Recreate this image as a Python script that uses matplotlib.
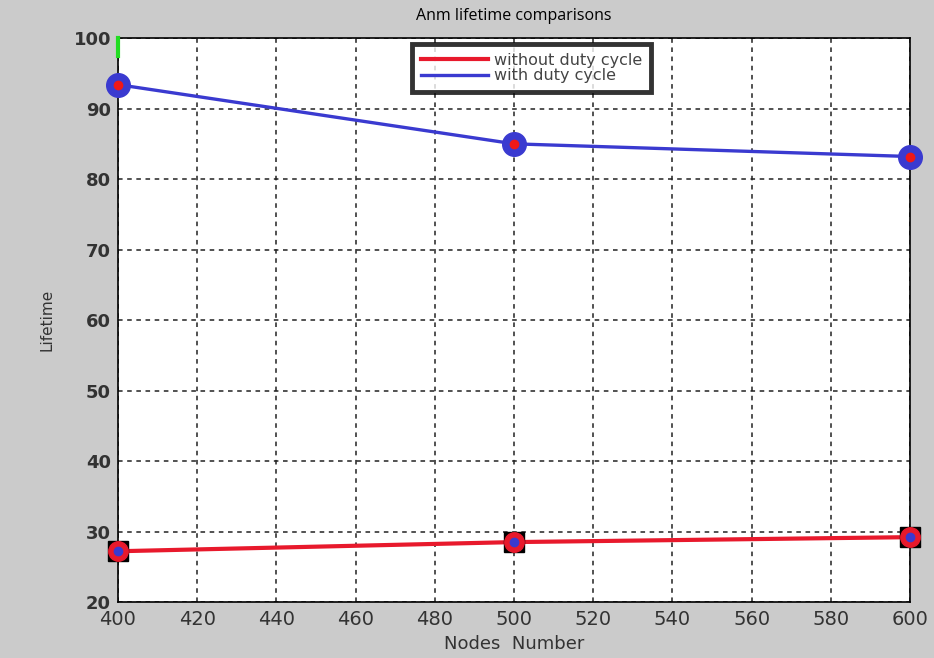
import matplotlib.pyplot as plt

nodes = [400, 500, 600]
without_duty = [27.2, 28.5, 29.2]
with_duty = [93.4, 85.0, 83.2]
green_x = [400, 400]
green_y = [97.4, 100]

fig = plt.figure(figsize=(9.34, 6.58), dpi=100, facecolor='#cbcbcb')
ax = fig.add_axes([0.1263, 0.0851, 0.848, 0.857])
ax.set_facecolor('white')

# red series: black square + red circle + blue dot
ax.plot(nodes, without_duty, color='#e8192c', linewidth=3, label='without duty cycle', zorder=3)
ax.plot(nodes, without_duty, linestyle='none', marker='s', markersize=15, color='black', zorder=4, clip_on=False)
ax.plot(nodes, without_duty, linestyle='none', marker='o', markersize=14, color='#e8192c', zorder=5, clip_on=False)
ax.plot(nodes, without_duty, linestyle='none', marker='o', markersize=6, color='#3a3ad0', zorder=6, clip_on=False)

# blue series: blue circle + red dot
ax.plot(nodes, with_duty, color='#3a3ad0', linewidth=2.4, label='with duty cycle', zorder=3)
ax.plot(nodes, with_duty, linestyle='none', marker='o', markersize=17, color='#3a3ad0', zorder=4, clip_on=False)
ax.plot(nodes, with_duty, linestyle='none', marker='o', markersize=6, color='#f01818', zorder=5, clip_on=False)

ax.plot(green_x, green_y, color='#22dd22', linewidth=3, zorder=3, clip_on=False)

ax.set_xlim(400, 600)
ax.set_ylim(20, 100)
ax.set_xticks(range(400, 601, 20))
ax.set_yticks(range(20, 101, 10))
ax.grid(True, color='#222222', linestyle=(0, (3, 3)), linewidth=1.1)
ax.tick_params(axis='x', labelsize=14, length=0, pad=6, colors='#333333')
ax.tick_params(axis='y', labelsize=13, length=0, pad=5, colors='#333333')
for lbl in ax.get_yticklabels():
    lbl.set_fontweight('bold')
for sp in ax.spines.values():
    sp.set_linewidth(1.2)

ax.set_title('Anm lifetime comparisons', fontsize=11.5, family='Open Sans', pad=13)
ax.set_xlabel('Nodes  Number', fontsize=13, color='#333333', labelpad=4)
ax.set_ylabel('Lifetime', fontsize=11, color='#333333', labelpad=14)

leg = ax.legend(loc='upper left', bbox_to_anchor=(0.371, 0.99), frameon=True,
                fancybox=False, handlelength=4.2, borderpad=0.55, borderaxespad=0,
                labelspacing=0.05, handletextpad=0.4, prop={'size': 11.5})
leg.get_frame().set_edgecolor('black')
leg.get_frame().set_linewidth(3.5)
for t in leg.get_texts():
    t.set_color('#444444')

fig.savefig('out.png', dpi=100, facecolor=fig.get_facecolor())
